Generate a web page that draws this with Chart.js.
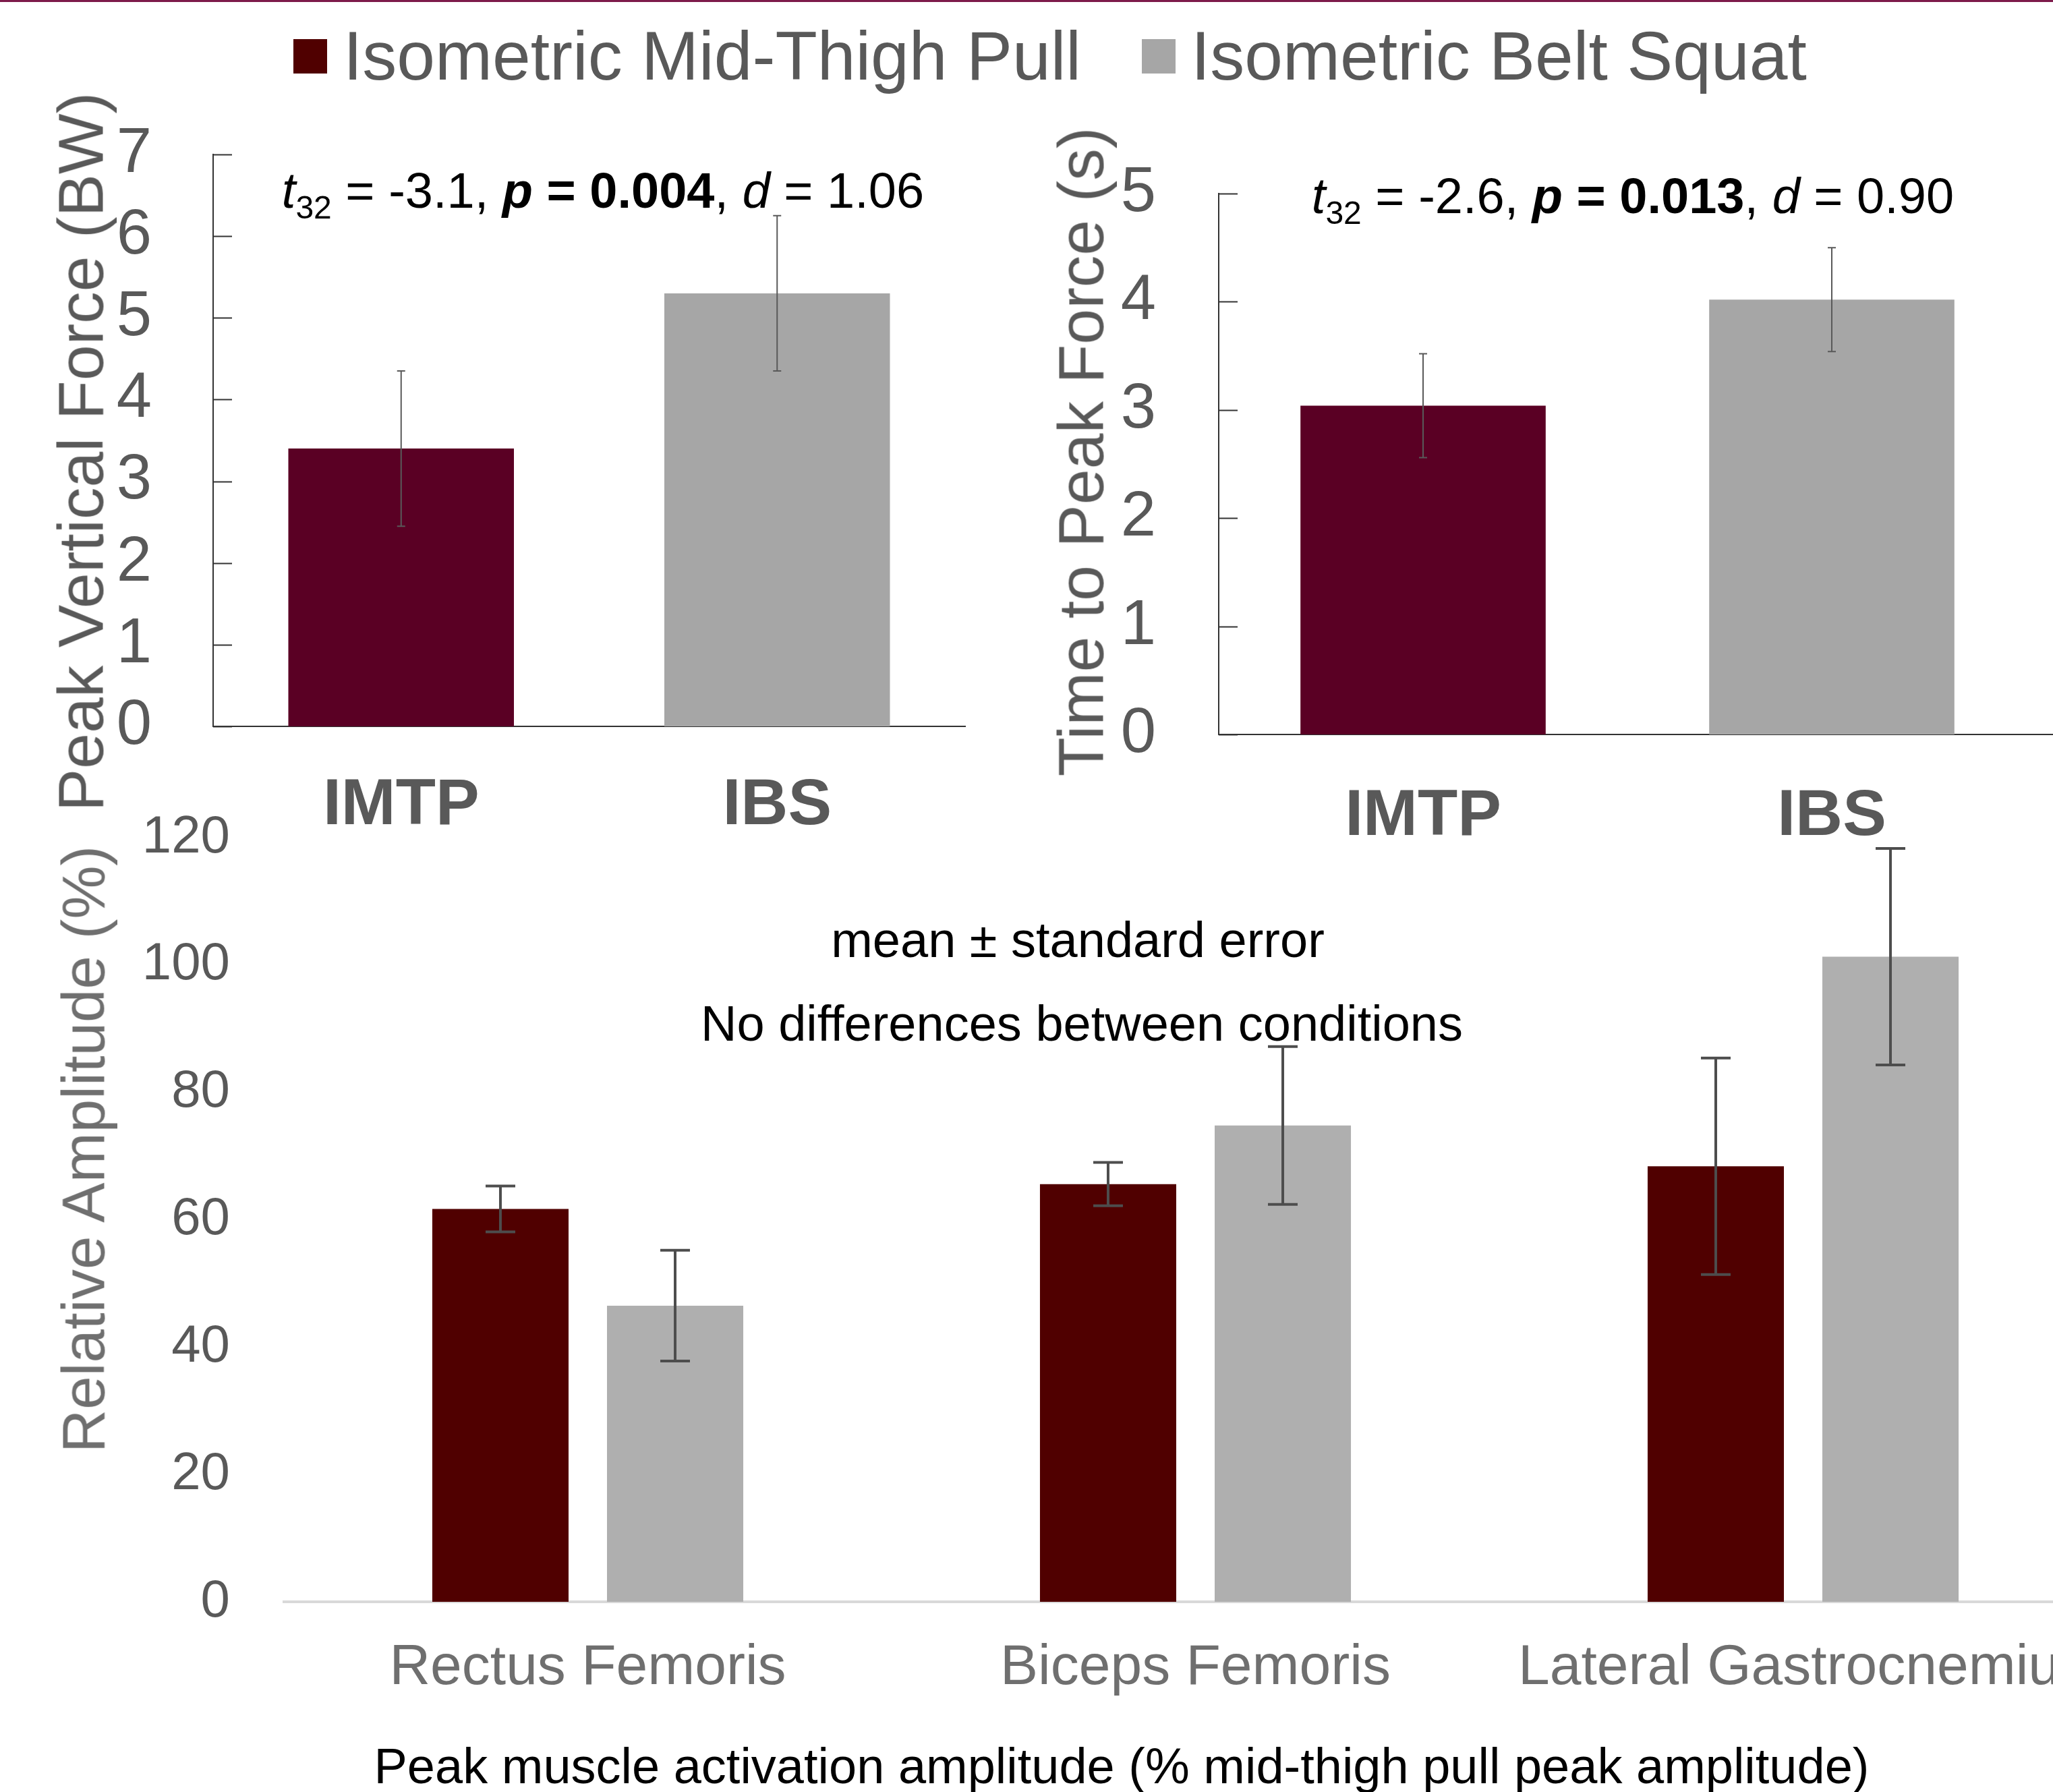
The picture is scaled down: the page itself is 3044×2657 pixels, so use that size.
<!DOCTYPE html>
<html>
<head>
<meta charset="utf-8">
<script src="https://cdn.jsdelivr.net/npm/chart.js@4/dist/chart.umd.min.js"></script>
<style>
  body { margin: 0; background: #fff; width: 3044px; height: 2657px; overflow: hidden; position: relative;
         font-family: "Liberation Sans", Arial, sans-serif; }
  .topline { position: absolute; left: 0; top: 0; width: 3044px; height: 3px; background: #7d1a4a; }
  .txt { position: absolute; white-space: nowrap; line-height: 1; transform: translate(-50%, -50%); }
  .rot { transform: translate(-50%, -50%) rotate(-90deg); }
  .sq { position: absolute; width: 50px; height: 51px; }
  .leg { position: absolute; font-size: 102px; color: #595959; line-height: 1; transform: translateY(-50%); white-space: nowrap; }
  canvas { position: absolute; }
  #bottomWrap { position: absolute; left: 0; top: 1117px; width: 3044px; height: 1540px; overflow: hidden; }
</style>
</head>
<body>
<div class="topline"></div>

<div class="sq" style="left:435px;top:58px;background:#500000"></div>
<div class="leg" style="left:509px;top:83px">Isometric Mid-Thigh Pull</div>
<div class="sq" style="left:1693px;top:58px;background:#a6a6a6"></div>
<div class="leg" style="left:1766px;top:83px">Isometric Belt Squat</div>

<canvas id="forceChart" width="1440" height="1300" style="left:0;top:0"></canvas>
<canvas id="timeChart" width="1544" height="1300" style="left:1500px;top:0"></canvas>
<div id="bottomWrap"><canvas id="ampChart" width="3200" height="1540" style="left:0;top:0"></canvas></div>

<div class="txt rot" style="left:120px;top:670px;font-size:95px;color:#595959">Peak Vertical Force (BW)</div>
<div class="txt rot" style="left:1603px;top:670px;font-size:95px;color:#595959">Time to Peak Force (s)</div>
<div class="txt" style="left:894px;top:289px;font-size:74px;color:#000"><i>t</i><sub style="font-size:48px">32</sub> = -3.1, <b><i>p</i> = 0.004</b>, <i>d</i> = 1.06</div>
<div class="txt" style="left:2421px;top:297px;font-size:74px;color:#000"><i>t</i><sub style="font-size:48px">32</sub> = -2.6, <b><i>p</i> = 0.013</b>, <i>d</i> = 0.90</div>

<div class="txt rot" style="left:124px;top:1704px;font-size:89px;color:#6f6f6f">Relative Amplitude (%)</div>
<div class="txt" style="left:1598px;top:1394px;font-size:74px;color:#000">mean ± standard error</div>
<div class="txt" style="left:1604px;top:1518px;font-size:74px;color:#000">No differences between conditions</div>
<div class="txt" style="left:1663px;top:2619px;font-size:74px;color:#000">Peak muscle activation amplitude (% mid-thigh pull peak amplitude)</div>

<script>
// data
const conditions = ['IMTP', 'IBS'];
const forceMean = [3.40, 5.30];
const forceErr = [0.95, 0.95];
const forceTicks = [0, 1, 2, 3, 4, 5, 6, 7];

const timeMean = [3.04, 4.02];
const timeErr = [0.48, 0.48];
const timeTicks = [0, 1, 2, 3, 4, 5];

const muscles = ['Rectus Femoris', 'Biceps Femoris', 'Lateral Gastrocnemius'];
const imtpAmp = [61.7, 65.6, 68.4];
const imtpAmpErr = [3.6, 3.4, 17.0];
const ibsAmp = [46.5, 74.8, 101.3];
const ibsAmpErr = [8.7, 12.4, 17.0];
const ampTicks = [0, 20, 40, 60, 80, 100, 120];

const maroonTop = '#5a0024';
const greyTop = '#a6a6a6';
const maroon = '#500000';
const grey = '#afafaf';

Chart.defaults.font.family = '"Liberation Sans", Arial, sans-serif';
Chart.defaults.color = '#595959';

// draws mean +/- error whiskers on each bar
const errorBars = {
  id: 'errorBars',
  afterDatasetsDraw(chart, args, opts) {
    const ctx = chart.ctx;
    const yScale = chart.scales.y;
    chart.data.datasets.forEach((ds, i) => {
      const meta = chart.getDatasetMeta(i);
      meta.data.forEach((bar, j) => {
        const v = ds.data[j], e = ds.errors[j];
        const yTop = yScale.getPixelForValue(v + e);
        const yBot = yScale.getPixelForValue(v - e);
        ctx.save();
        ctx.strokeStyle = opts.color;
        ctx.lineWidth = opts.width;
        ctx.beginPath();
        ctx.moveTo(bar.x, yTop); ctx.lineTo(bar.x, yBot);
        ctx.moveTo(bar.x - opts.cap, yTop); ctx.lineTo(bar.x + opts.cap, yTop);
        ctx.moveTo(bar.x - opts.cap, yBot); ctx.lineTo(bar.x + opts.cap, yBot);
        ctx.stroke();
        ctx.restore();
      });
    });
  }
};

// tick marks pointing into the plot, and x axis running on to the edge
const insideTicks = {
  id: 'insideTicks',
  afterDraw(chart, args, opts) {
    if (!opts.length) return;
    const ctx = chart.ctx;
    const y = chart.scales.y;
    const area = chart.chartArea;
    ctx.save();
    ctx.strokeStyle = '#333';
    ctx.lineWidth = 2;
    y.ticks.forEach(t => {
      const py = Math.round(y.getPixelForValue(t.value)) + 0.5;
      ctx.beginPath();
      ctx.moveTo(area.left, py);
      ctx.lineTo(area.left + opts.length, py);
      ctx.stroke();
    });
    if (opts.extend) {
      const py = Math.round(y.getPixelForValue(0));
      ctx.beginPath();
      ctx.moveTo(area.right - 2, py);
      ctx.lineTo(chart.width, py);
      ctx.stroke();
    }
    ctx.restore();
  }
};

function topChart(id, means, errs, ticks, box) {
  return new Chart(document.getElementById(id), {
    type: 'bar',
    data: {
      labels: conditions,
      datasets: [{
        data: means,
        errors: errs,
        backgroundColor: [maroonTop, greyTop],
        borderWidth: 0,
        barPercentage: 0.6,
        categoryPercentage: 1
      }]
    },
    options: {
      responsive: false,
      animation: false,
      devicePixelRatio: 1,
      layout: { padding: { left: 0, top: box.top, right: box.right, bottom: 0 } },
      plugins: {
        legend: { display: false },
        tooltip: { enabled: false },
        errorBars: { color: '#595959', width: 2, cap: 6 },
        insideTicks: { length: 28, extend: box.extend }
      },
      scales: {
        x: {
          grid: { display: false },
          border: { display: true, color: '#333', width: 2 },
          ticks: { font: { size: 97, weight: 'bold' }, color: '#595959', padding: box.xpad, maxRotation: 0 },
          afterFit: s => { s.height = box.xh; }
        },
        y: {
          min: ticks[0],
          max: ticks[ticks.length - 1],
          grid: { display: false },
          border: { display: true, color: '#333', width: 2 },
          ticks: { stepSize: 1, font: { size: 94 }, color: '#595959', padding: box.pad },
          afterFit: s => { s.width = box.yw; }
        }
      }
    },
    plugins: [errorBars, insideTicks]
  });
}

topChart('forceChart', forceMean, forceErr, forceTicks, { top: 229, right: 9, xh: 223, yw: 316, pad: 83, xpad: 52, extend: false });
topChart('timeChart', timeMean, timeErr, timeTicks, { top: 287, right: 25, xh: 211, yw: 307, pad: 85, xpad: 56, extend: true });

new Chart(document.getElementById('ampChart'), {
  type: 'bar',
  data: {
    labels: muscles,
    datasets: [
      { label: 'Isometric Mid-Thigh Pull', data: imtpAmp, errors: imtpAmpErr, backgroundColor: maroon,
        borderWidth: 0, barPercentage: 0.78, categoryPercentage: 0.575 },
      { label: 'Isometric Belt Squat', data: ibsAmp, errors: ibsAmpErr, backgroundColor: grey,
        borderWidth: 0, barPercentage: 0.78, categoryPercentage: 0.575 }
    ]
  },
  options: {
    responsive: false,
    animation: false,
    devicePixelRatio: 1,
    layout: { padding: { left: 0, top: 125, right: 76, bottom: 0 } },
    plugins: {
      legend: { display: false },
      tooltip: { enabled: false },
      errorBars: { color: '#4d4d4d', width: 4, cap: 22 }
    },
    scales: {
      x: {
        grid: { display: false },
        border: { display: true, color: '#d9d9d9', width: 4 },
        ticks: { font: { size: 84 }, color: '#6f6f6f', padding: 40, maxRotation: 0, autoSkip: false },
        afterFit: s => { s.height = 282; }
      },
      y: {
        min: ampTicks[0],
        max: ampTicks[ampTicks.length - 1],
        grid: { display: false },
        border: { display: false },
        ticks: { stepSize: 20, font: { size: 78 }, color: '#595959', padding: 72 },
        afterFit: s => { s.width = 421; }
      }
    }
  },
  plugins: [errorBars]
});
</script>
</body>
</html>
